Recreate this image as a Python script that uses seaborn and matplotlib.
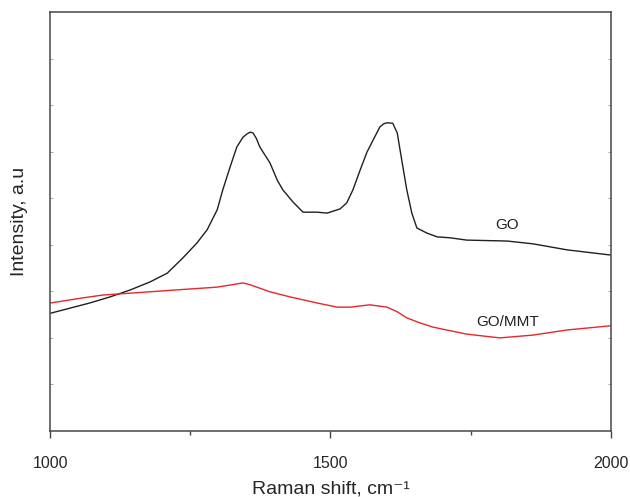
import matplotlib
matplotlib.use("Agg")
import matplotlib.pyplot as plt
import numpy as np
import pandas as pd
import seaborn as sns

# Raman spectra: wavenumber (cm^-1) and intensity (arbitrary units)
go_shift = [1001, 1036, 1071, 1107, 1143, 1178, 1209, 1237, 1262, 1280, 1298,
            1308, 1321, 1333, 1344, 1351, 1357, 1362, 1368, 1374, 1392, 1405,
            1415, 1433, 1451, 1476, 1494, 1517, 1529, 1540, 1553, 1565, 1576,
            1588, 1595, 1601, 1611, 1619, 1627, 1636, 1645, 1654, 1672, 1690,
            1713, 1743, 1815, 1861, 1922, 1999]
go_intensity = [2.53, 2.64, 2.75, 2.88, 3.03, 3.20, 3.39, 3.72, 4.04, 4.32, 4.75,
                5.18, 5.67, 6.10, 6.31, 6.38, 6.42, 6.40, 6.28, 6.10, 5.76, 5.39,
                5.18, 4.92, 4.70, 4.70, 4.68, 4.77, 4.90, 5.18, 5.61, 5.99, 6.25,
                6.53, 6.60, 6.62, 6.61, 6.40, 5.82, 5.18, 4.68, 4.36, 4.25, 4.17,
                4.15, 4.10, 4.08, 4.02, 3.89, 3.78]

gomm_shift = [1001, 1059, 1094, 1119, 1178, 1237, 1298, 1344, 1357, 1392, 1428,
              1476, 1512, 1535, 1570, 1601, 1619, 1636, 1660, 1683, 1743, 1802,
              1861, 1922, 1999]
gomm_intensity = [2.75, 2.86, 2.92, 2.94, 2.99, 3.04, 3.09, 3.18, 3.14, 2.99, 2.88,
                  2.75, 2.66, 2.66, 2.71, 2.66, 2.56, 2.43, 2.32, 2.23, 2.08, 2.00,
                  2.06, 2.17, 2.26]

series_names = ["GO", "GO/MMT"]
x_ticks = [1000, 1500, 2000]
x_minor = [1250, 1750]

df = pd.concat([
    pd.DataFrame({"shift": go_shift, "intensity": go_intensity, "sample": series_names[0]}),
    pd.DataFrame({"shift": gomm_shift, "intensity": gomm_intensity, "sample": series_names[1]}),
])

sns.set_style("ticks")
plt.rcParams["font.family"] = ["Liberation Sans", "DejaVu Sans"]

fig = plt.figure(figsize=(6.3, 4.97), dpi=100)
ax = fig.add_axes([0.0794, 0.1328, 0.8904, 0.8431])

sns.lineplot(data=df, x="shift", y="intensity", hue="sample",
             palette={"GO": "#231f20", "GO/MMT": "#e8262b"},
             linewidth=1.0, legend=False, ax=ax, sort=False)

ax.set_xlim(1000, 2000)
ax.set_ylim(0, 9)
ax.set_xticks(x_ticks)
ax.set_xticks(x_minor, minor=True)
ax.set_xticklabels([str(t) for t in x_ticks], fontsize=11.5)
ax.set_yticks(np.arange(1, 9))
ax.set_yticklabels([])

edge = "#4a4445"
for sp in ax.spines.values():
    sp.set_visible(True)
    sp.set_color(edge)
    sp.set_linewidth(1.1)

ax.tick_params(axis="x", which="major", direction="out", length=5, width=1.0,
               color=edge, pad=13)
ax.tick_params(axis="x", which="minor", direction="out", length=3, width=1.0,
               color=edge)
ax.tick_params(axis="y", which="major", left=True, right=True, direction="in",
               length=2, width=0.6, color="#9a9a9a")

ax.set_xlabel("Raman shift, cm\u207b\u00b9", fontsize=14, labelpad=7)
ax.set_ylabel("Intensity, a.u", fontsize=14, labelpad=12)

ax.text(1815, 4.42, "GO", fontsize=11, ha="center", va="center", color="#231f20")
ax.text(1815, 2.34, "GO/MMT", fontsize=11, ha="center", va="center", color="#231f20")

fig.savefig("out.png", dpi=100)
